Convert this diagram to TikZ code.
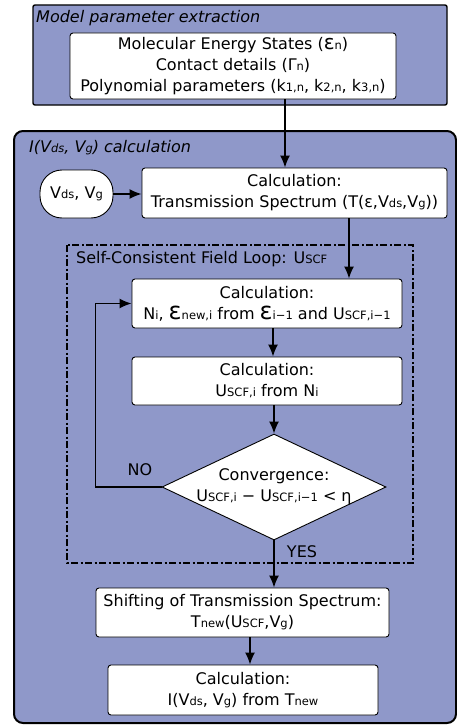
\documentclass[tikz,border=0pt]{standalone}
\usepackage{fontspec}
\setmainfont{DejaVu Sans}
\usepackage{xcolor}
\usetikzlibrary{arrows.meta}
\usetikzlibrary{shapes.geometric}
\definecolor{panelblue}{RGB}{143,152,201}
\newcommand{\sml}[1]{{\fontsize{11.5}{11.5}\selectfont #1}}
\newcommand{\Uscf}{U\sml{SCF}}
\newcommand{\bigeps}[1]{{\fontsize{#1}{#1}\selectfont ε}}

\begin{document}
\begin{tikzpicture}[x=1pt, y=-1pt,
every node/.style={font=\fontsize{16}{21}\selectfont, text=black},
box/.style={draw, fill=white, rounded corners=3pt, align=center, inner sep=0pt, line width=0.9pt},
panel/.style={draw, fill=panelblue},
title/.style={anchor=base west, inner sep=0pt},
arr/.style={-{Latex[length=12pt,width=10pt]}, line width=1.5pt}]
\useasboundingbox (0,0) rectangle (456,725);
% panels
\draw[panel, line width=1.4pt, rounded corners=2pt] (33,5) rectangle (447,105);
\node[title, font=\fontsize{16}{21}\selectfont\itshape] (ptitle) at (36,23) {Model parameter extraction};
\draw[panel, line width=2pt, rounded corners=9pt] (14,131) rectangle (456,723);
\node[title, font=\fontsize{16}{21}\selectfont\itshape] (ctitle) at (29,152) {I(V\sml{ds}, V\sml{g}) calculation};
\draw[line width=1.5pt, dash pattern=on 7pt off 2.5pt on 2pt off 2.5pt] (67,245) rectangle (413,563);
\node[title] (ltitle) at (76,263) {Self-Consistent Field Loop: \Uscf};
% steps
\node[box, minimum width=326pt, minimum height=66pt] (param) at (233,66)
  {Molecular Energy States (\bigeps{20}\sml{n})\\ Contact details (Γ\sml{n})\\
   Polynomial parameters (k\sml{1,n}, k\sml{2,n}, k\sml{3,n})};
\node[draw, fill=white, rounded corners=22pt, line width=0.9pt, inner sep=0pt,
  minimum width=73pt, minimum height=48pt] (vin) at (76.5,194) {V\sml{ds}, V\sml{g}};
\node[box, minimum width=305pt, minimum height=50pt] (trans) at (294.5,193)
  {Calculation:\\ Transmission Spectrum (T(ε,V\sml{ds},V\sml{g}))};
\node[box, minimum width=270pt, minimum height=49pt] (ni) at (267,303.5)
  {Calculation:\\ N\sml{i}, \bigeps{24}\sml{new,i} from \bigeps{24}\sml{i−1} and \Uscf\sml{,i−1}};
\node[box, minimum width=270pt, minimum height=48pt] (uscf) at (267,381)
  {Calculation:\\ \Uscf\sml{,i} from N\sml{i}};
\node[diamond, draw, fill=white, line width=0.9pt, inner sep=0pt,
  minimum width=224pt, minimum height=106pt] (conv) at (274,487) {};
\node[align=center, inner sep=0pt] (convtext) at (conv.center)
  {Convergence:\\ \Uscf\sml{,i} − \Uscf\sml{,i−1} < η};
\node[box, minimum width=293pt, minimum height=49pt] (shift) at (242.5,612.5)
  {Shifting of Transmission Spectrum:\\ T\sml{new}(\Uscf,V\sml{g})};
\node[box, minimum width=270pt, minimum height=50pt] (curr) at (243,690)
  {Calculation:\\ I(V\sml{ds}, V\sml{g}) from T\sml{new}};
\node[anchor=base, inner sep=0pt] (nolbl) at (140,475) {NO};
\node[anchor=base, inner sep=0pt] (yeslbl) at (302,557) {YES};
% connectors
\draw[arr] ([xshift=52pt]param.south) -- ([xshift=52pt]param.south |- trans.north);
\draw[arr] (vin.east) -- (vin.east -| trans.west);
\draw[arr] ([xshift=54.5pt]trans.south) -- ([xshift=54.5pt]trans.south |- ni.north);
\draw[arr] ([xshift=6pt]ni.south) -- ([xshift=6pt]ni.south |- uscf.north);
\draw[arr] (uscf.south -| conv.north) -- (conv.north);
\draw[arr] (conv.west) -- ++(-66,0) |- (ni.west);
\draw[arr] (conv.south) -- (conv.south |- shift.north);
\draw[arr] ([xshift=7.5pt]shift.south) -- ([xshift=7.5pt]shift.south |- curr.north);
\end{tikzpicture}
\end{document}
